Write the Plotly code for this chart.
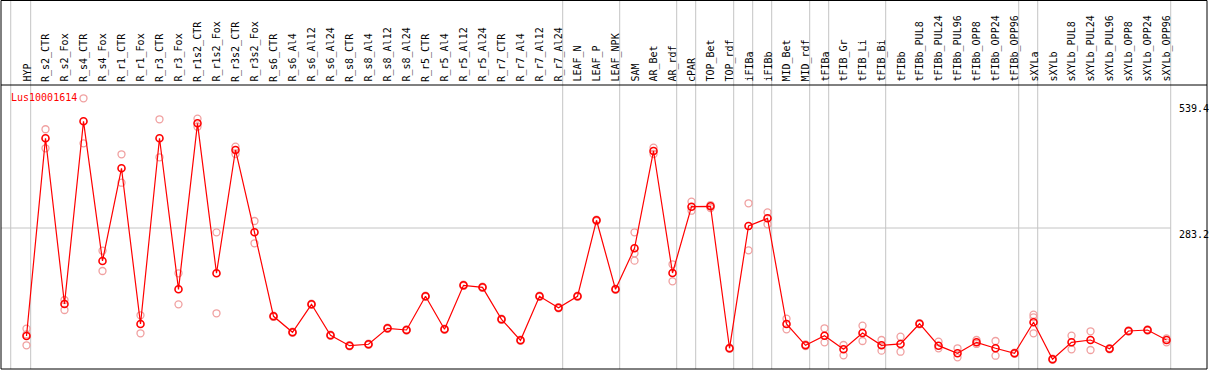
import plotly.graph_objects as go

categories = [
    "HYP", "R_s2_CTR", "R_s2_Fox", "R_s4_CTR", "R_s4_Fox", "R_r1_CTR", "R_r1_Fox",
    "R_r3_CTR", "R_r3_Fox", "R_r1s2_CTR", "R_r1s2_Fox", "R_r3s2_CTR", "R_r3s2_Fox",
    "R_s6_CTR", "R_s6_Al4", "R_s6_Al12", "R_s6_Al24", "R_s8_CTR", "R_s8_Al4",
    "R_s8_Al12", "R_s8_Al24", "R_r5_CTR", "R_r5_Al4", "R_r5_Al12", "R_r5_Al24",
    "R_r7_CTR", "R_r7_Al4", "R_r7_Al12", "R_r7_Al24", "LEAF_N", "LEAF_P", "LEAF_NPK",
    "SAM", "AR_Bet", "AR_rdf", "cPAR", "TOP_Bet", "TOP_rdf", "iFIBa", "iFIBb",
    "MID_Bet", "MID_rdf", "tFIBa", "tFIB_Gr", "tFIB_Li", "tFIB_Bi", "tFIBb",
    "tFIBb_PUL8", "tFIBb_PUL24", "tFIBb_PUL96", "tFIBb_OPP8", "tFIBb_OPP24",
    "tFIBb_OPP96", "sXYLa", "sXYLb", "sXYLb_PUL8", "sXYLb_PUL24", "sXYLb_PUL96",
    "sXYLb_OPP8", "sXYLb_OPP24", "sXYLb_OPP96",
]

mean_vals = [
    67.8, 462.1, 131.6, 496.0, 217.4, 402.3, 91.7, 462.1, 160.9, 492.0, 192.9,
    438.8, 274.6, 107.1, 75.2, 131.0, 69.2, 48.5, 51.3, 83.2, 79.8, 147.0, 81.2,
    168.9, 164.9, 101.1, 59.2, 147.0, 124.2, 147.0, 298.6, 160.9, 242.7, 436.8,
    193.5, 325.7, 326.5, 43.3, 287.2, 302.5, 91.7, 49.3, 68.4, 41.3, 73.8, 49.3,
    51.9, 92.3, 48.5, 33.3, 55.2, 43.3, 33.3, 95.1, 21.3, 55.2, 59.8, 42.5, 77.8,
    79.8, 59.8,
]

rep1 = [
    82.4, 480.1, 139.6, 541.9, 237.9, 430.2, 109.1, 500.0, 192.9, 501.2, 274.6,
    445.3, 297.2, 108.5, 76.5, 132.4, 70.5, 49.6, 52.4, 84.5, 81.0, 148.3, 82.4,
    170.1, 166.2, 102.3, 60.4, 148.2, 125.4, 148.2, 300.0, 162.1, 274.6, 443.4,
    210.8, 335.7, 329.0, 44.5, 332.5, 314.5, 102.3, 51.0, 83.2, 49.9, 88.4, 59.8,
    66.4, 93.5, 56.4, 43.3, 59.8, 57.8, 34.5, 110.3, 22.5, 68.4, 77.2, 43.7, 79.0,
    81.0, 63.2,
]

rep2 = [
    49.3, 442.2, 119.7, 452.1, 197.4, 373.5, 73.2, 424.2, 131.0, 485.2, 113.1,
    430.8, 252.7, 105.8, 74.0, 129.8, 68.0, 47.3, 50.1, 81.9, 78.6, 145.7, 80.0,
    167.6, 163.6, 99.8, 58.0, 145.8, 123.0, 145.8, 297.2, 159.7, 232.7, 430.8,
    176.9, 317.7, 323.0, 42.1, 238.7, 290.6, 81.2, 47.6, 55.2, 29.3, 57.8, 38.5,
    36.5, 91.1, 43.3, 25.3, 51.9, 28.5, 32.1, 73.2, 20.1, 41.3, 39.9, 41.3, 76.6,
    78.6, 55.2,
]

# third replicate only where it is visibly separate
rep3_cats = ["HYP", "SAM", "sXYLa"]
rep3_vals = [71.0, 218.0, 105.1]

y_ticks = [539.4, 283.2, 0]
gene = "Lus10001614"

# group boundaries (category index after which a separator is drawn)
group_ends = [0, 28, 31, 34, 35, 37, 38, 39, 41, 42, 45, 52, 53, 60]

FONT = "DejaVu Sans Mono"
idx = list(range(len(categories)))
cat_index = {c: i for i, c in enumerate(categories)}

W, H = 1209, 370
ML, MR, MT, MB = 1, 2, 85, 1
plot_h = H - MT - MB
x_range = [-1.342, 62.13]
y_range = [1.99, 568.4]

fig = go.Figure()

rep_style = dict(symbol="circle-open", size=7, color="#f0a0a0", line=dict(width=1.3, color="#f0a0a0"))
fig.add_trace(go.Scatter(x=idx, y=rep1, mode="markers", marker=rep_style, hoverinfo="skip", showlegend=False))
fig.add_trace(go.Scatter(x=idx, y=rep2, mode="markers", marker=rep_style, hoverinfo="skip", showlegend=False))
fig.add_trace(go.Scatter(x=[cat_index[c] for c in rep3_cats], y=rep3_vals, mode="markers",
                         marker=rep_style, hoverinfo="skip", showlegend=False))
fig.add_trace(go.Scatter(
    x=idx, y=mean_vals, mode="lines+markers",
    line=dict(color="#ff0000", width=1.2),
    marker=dict(symbol="circle-open", size=7, color="#ff0000", line=dict(width=1.6, color="#ff0000")),
    showlegend=False,
))

shapes = []
grid = "#c4c4c4"
top_paper = (H - MB - 0.5) / plot_h  # top of figure in paper units
# separators
sep_positions = [-0.83] + [g + 0.22 for g in group_ends]
for sp in sep_positions:
    shapes.append(dict(type="line", xref="x", yref="paper", x0=sp, x1=sp, y0=0, y1=top_paper,
                       line=dict(color=grid, width=1), layer="below"))
last_sep = group_ends[-1] + 0.22
# horizontal grid at middle tick
shapes.append(dict(type="line", xref="x", yref="y", x0=x_range[0], x1=last_sep, y0=y_ticks[1], y1=y_ticks[1],
                   line=dict(color=grid, width=1), layer="below"))
# frame
blk = dict(color="black", width=1)
shapes.append(dict(type="line", xref="paper", yref="paper", x0=0, x1=1, y0=1, y1=1, line=blk))
shapes.append(dict(type="line", xref="paper", yref="paper", x0=0, x1=1, y0=top_paper, y1=top_paper, line=blk))
shapes.append(dict(type="line", xref="paper", yref="paper", x0=0, x1=1, y0=0, y1=0, line=blk))
shapes.append(dict(type="line", xref="paper", yref="paper", x0=0, x1=0, y0=0, y1=top_paper, line=blk))
shapes.append(dict(type="line", xref="paper", yref="paper", x0=1, x1=1, y0=0, y1=top_paper, line=blk))

annotations = []
for i, c in enumerate(categories):
    annotations.append(dict(x=i, y=1, xref="x", yref="paper", text=c, showarrow=False,
                            textangle=-90, xanchor="center", yanchor="bottom", yshift=1,
                            font=dict(family=FONT, size=10, color="black")))
annotations.append(dict(x=0.0065, y=(H - MB - 97) / plot_h, xref="paper", yref="paper", text=gene,
                        showarrow=False, xanchor="left", yanchor="middle",
                        font=dict(family=FONT, size=10, color="#ff0000")))
lab_x = (1177 - ML) / (W - ML - MR)
annotations.append(dict(x=lab_x, y=y_ticks[0], xref="paper", yref="y", text=str(y_ticks[0]),
                        showarrow=False, xanchor="left", yanchor="top", yshift=-1,
                        font=dict(family=FONT, size=10, color="black")))
annotations.append(dict(x=lab_x, y=y_ticks[1], xref="paper", yref="y", text=str(y_ticks[1]),
                        showarrow=False, xanchor="left", yanchor="top", yshift=1,
                        font=dict(family=FONT, size=10, color="black")))
annotations.append(dict(x=lab_x, y=y_ticks[2], xref="paper", yref="y", text=str(y_ticks[2]),
                        showarrow=False, xanchor="left", yanchor="bottom", yshift=3,
                        font=dict(family=FONT, size=10, color="black")))

fig.update_layout(
    width=W, height=H, autosize=False,
    margin=dict(l=ML, r=MR, t=MT, b=MB, pad=0),
    paper_bgcolor="white", plot_bgcolor="white",
    xaxis=dict(range=x_range, showgrid=False, zeroline=False, showticklabels=False,
               showline=False, ticks="", fixedrange=True),
    yaxis=dict(range=y_range, showgrid=False, zeroline=False, showticklabels=False,
               showline=False, ticks="", fixedrange=True),
    shapes=shapes, annotations=annotations,
    font=dict(family=FONT, size=10),
)

fig.write_html("out.html", config={"displayModeBar": False},
               post_script="document.body.style.margin='0';document.body.style.padding='0';document.body.style.overflow='hidden';")
